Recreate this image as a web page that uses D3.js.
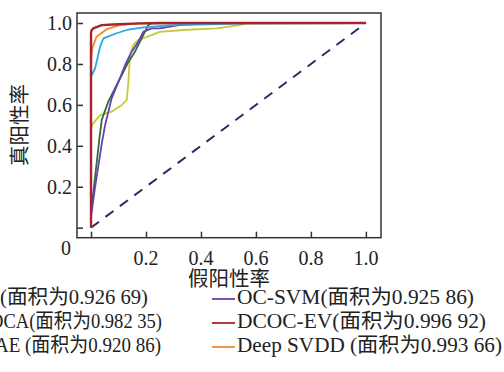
<!DOCTYPE html>
<html><head><meta charset="utf-8">
<script src="https://cdn.jsdelivr.net/npm/d3@7"></script>
<style>
html,body{margin:0;padding:0;background:#fff;}
svg{display:block;}
text{font-family:"Liberation Serif","Noto Sans CJK SC",serif;fill:#222;}
</style></head>
<body><svg id="c" width="504" height="372"></svg>
<script>
// ---- data ----
const xTicks = [0.2, 0.4, 0.6, 0.8, 1.0];
const yTicks = [0, 0.2, 0.4, 0.6, 0.8, 1.0];
const xTickLabels = ["0.2", "0.4", "0.6", "0.8", "1.0"];
const yTickLabels = ["", "0.2", "0.4", "0.6", "0.8", "1.0"];
const xTitle = "假阳性率";
const yTitle = "真阳性率";

const greenFPR = [0, 0.0, 0.02, 0.03, 0.039, 0.045, 0.063, 0.087, 0.112, 0.136, 0.16, 0.178, 0.196, 0.208, 0.22, 1];
const greenTPR = [0, 0.07, 0.31, 0.43, 0.526, 0.55, 0.616, 0.68, 0.746, 0.81, 0.86, 0.909, 0.957, 0.99, 0.998, 1];

const yellowFPR = [0, 0, 0.008, 0.033, 0.075, 0.112, 0.13, 0.136, 0.142, 0.154, 0.172, 0.22, 0.25, 0.336, 0.457, 0.54, 0.566, 1];
const yellowTPR = [0, 0.486, 0.51, 0.55, 0.567, 0.6, 0.624, 0.713, 0.844, 0.893, 0.917, 0.941, 0.957, 0.966, 0.974, 0.99, 0.998, 1];

const purpleFPR = [0, 0.0, 0.015, 0.039, 0.051, 0.075, 0.1, 0.124, 0.148, 0.172, 0.19, 0.22, 0.25, 0.32, 0.41, 1];
const purpleTPR = [0, 0.054, 0.2, 0.41, 0.5, 0.632, 0.713, 0.795, 0.86, 0.909, 0.957, 0.974, 0.974, 0.99, 0.998, 1];

const blueFPR = [0, 0, 0.015, 0.033, 0.045, 0.093, 0.13, 0.19, 0.3, 0.47, 0.55, 1];
const blueTPR = [0, 0.738, 0.779, 0.884, 0.925, 0.95, 0.966, 0.979, 0.99, 0.995, 1.0, 1];

const orangeFPR = [0, 0, 0.005, 0.02, 0.057, 0.105, 0.178, 0.3, 1];
const orangeTPR = [0, 0.82, 0.88, 0.933, 0.97, 0.99, 0.998, 1.0, 1];

const redFPR = [0, 0, 0.002, 0.01, 0.039, 0.08, 0.15, 0.25, 1];
const redTPR = [0, 0.95, 0.965, 0.975, 0.99, 0.993, 0.997, 1.0, 1];

const diagFPR = [0, 1];
const diagTPR = [0, 1];

// left column is cropped by the picture's left edge in the reference
const seriesNames = ["(面积为0.926 69)", "DCA(面积为0.982 35)", "AE (面积为0.920 86)",
                     "OC-SVM(面积为0.925 86)", "DCOC-EV(面积为0.996 92)", "Deep SVDD (面积为0.993 66)"];
const seriesColors = ["#2f6e35", "#2aa8e0", "#c9c83c", "#6b3fb3", "#a5242f", "#f5892a"];

// ---- layout ----
const svg = d3.select("#c");
const L = 77, R = 381, T = 13, B = 237.7;
const x = d3.scaleLinear().domain([-0.051, 1.055]).range([L, R]);
const y = d3.scaleLinear().domain([-0.049, 1.049]).range([B, T]);

// frame
svg.append("rect").attr("x", L).attr("y", T).attr("width", R - L).attr("height", B - T)
  .attr("fill", "none").attr("stroke", "#333").attr("stroke-width", 1.5);

// axes with inward ticks
const xAxis = d3.axisBottom(x).tickValues([0].concat(xTicks)).tickSizeInner(-6).tickSizeOuter(0).tickFormat("");
const gx = svg.append("g").attr("transform", `translate(0,${B})`).call(xAxis);
gx.select(".domain").remove();
gx.selectAll("line").attr("stroke", "#333").attr("stroke-width", 1.5);
svg.append("g").selectAll("text").data(xTicks).join("text")
  .attr("x", d => x(d)).attr("y", 265).attr("text-anchor", "middle")
  .attr("font-size", 20).text((d, i) => xTickLabels[i]);

const yAxis = d3.axisLeft(y).tickValues(yTicks).tickSizeInner(-6).tickSizeOuter(0).tickFormat("");
const gy = svg.append("g").attr("transform", `translate(${L},0)`).call(yAxis);
gy.select(".domain").remove();
gy.selectAll("line").attr("stroke", "#333").attr("stroke-width", 1.5);
svg.append("g").selectAll("text").data(yTicks).join("text")
  .attr("x", 72).attr("y", d => y(d) + 7).attr("text-anchor", "end")
  .attr("font-size", 20).text((d, i) => yTickLabels[i]);
svg.append("text").attr("x", 66).attr("y", 254.5).attr("text-anchor", "middle")
  .attr("font-size", 20).text("0");

// titles
svg.append("text").attr("x", 229).attr("y", 286).attr("text-anchor", "middle")
  .attr("font-size", 20.5).text(xTitle);
svg.append("text").attr("transform", "translate(27,125) rotate(-90)").attr("text-anchor", "middle")
  .attr("font-size", 20.5).text(yTitle);

// curves
const line = d3.line().x(d => x(d[0])).y(d => y(d[1]));
function draw(fx, ty, color, w, dash) {
  const p = svg.append("path").datum(fx.map((v, i) => [v, ty[i]]))
    .attr("d", line).attr("fill", "none").attr("stroke", color)
    .attr("stroke-width", w).attr("stroke-linejoin", "round");
  if (dash) p.attr("stroke-dasharray", dash);
}
draw(diagFPR, diagTPR, "#2b2a66", 2, "10,8");
draw(yellowFPR, yellowTPR, seriesColors[2], 1.8);
draw(greenFPR, greenTPR, seriesColors[0], 1.8);
draw(purpleFPR, purpleTPR, seriesColors[3], 1.8);
draw(blueFPR, blueTPR, seriesColors[1], 1.8);
draw(orangeFPR, orangeTPR, seriesColors[5], 1.8);
draw(redFPR, redTPR, seriesColors[4], 2.4);

// legend
const rowsY = [304, 328, 352];
const leftStart = [0, -10, -5];
const leftLen = [148, 172, 166];
[0, 1, 2].forEach(i => {
  svg.append("text").attr("x", leftStart[i]).attr("y", rowsY[i])
    .attr("font-size", 20).attr("textLength", leftLen[i]).attr("lengthAdjust", "spacingAndGlyphs")
    .text(seriesNames[i]);
});
const rightLen = [237, 249, 265];
[3, 4, 5].forEach((s, i) => {
  svg.append("line").attr("x1", 212).attr("x2", 235).attr("y1", rowsY[i] - 5).attr("y2", rowsY[i] - 5)
    .attr("stroke", seriesColors[s]).attr("stroke-width", 1.8);
  svg.append("text").attr("x", 237).attr("y", rowsY[i]).attr("font-size", 20.5)
    .attr("textLength", rightLen[i]).attr("lengthAdjust", "spacingAndGlyphs").text(seriesNames[s]);
});
</script></body></html>
